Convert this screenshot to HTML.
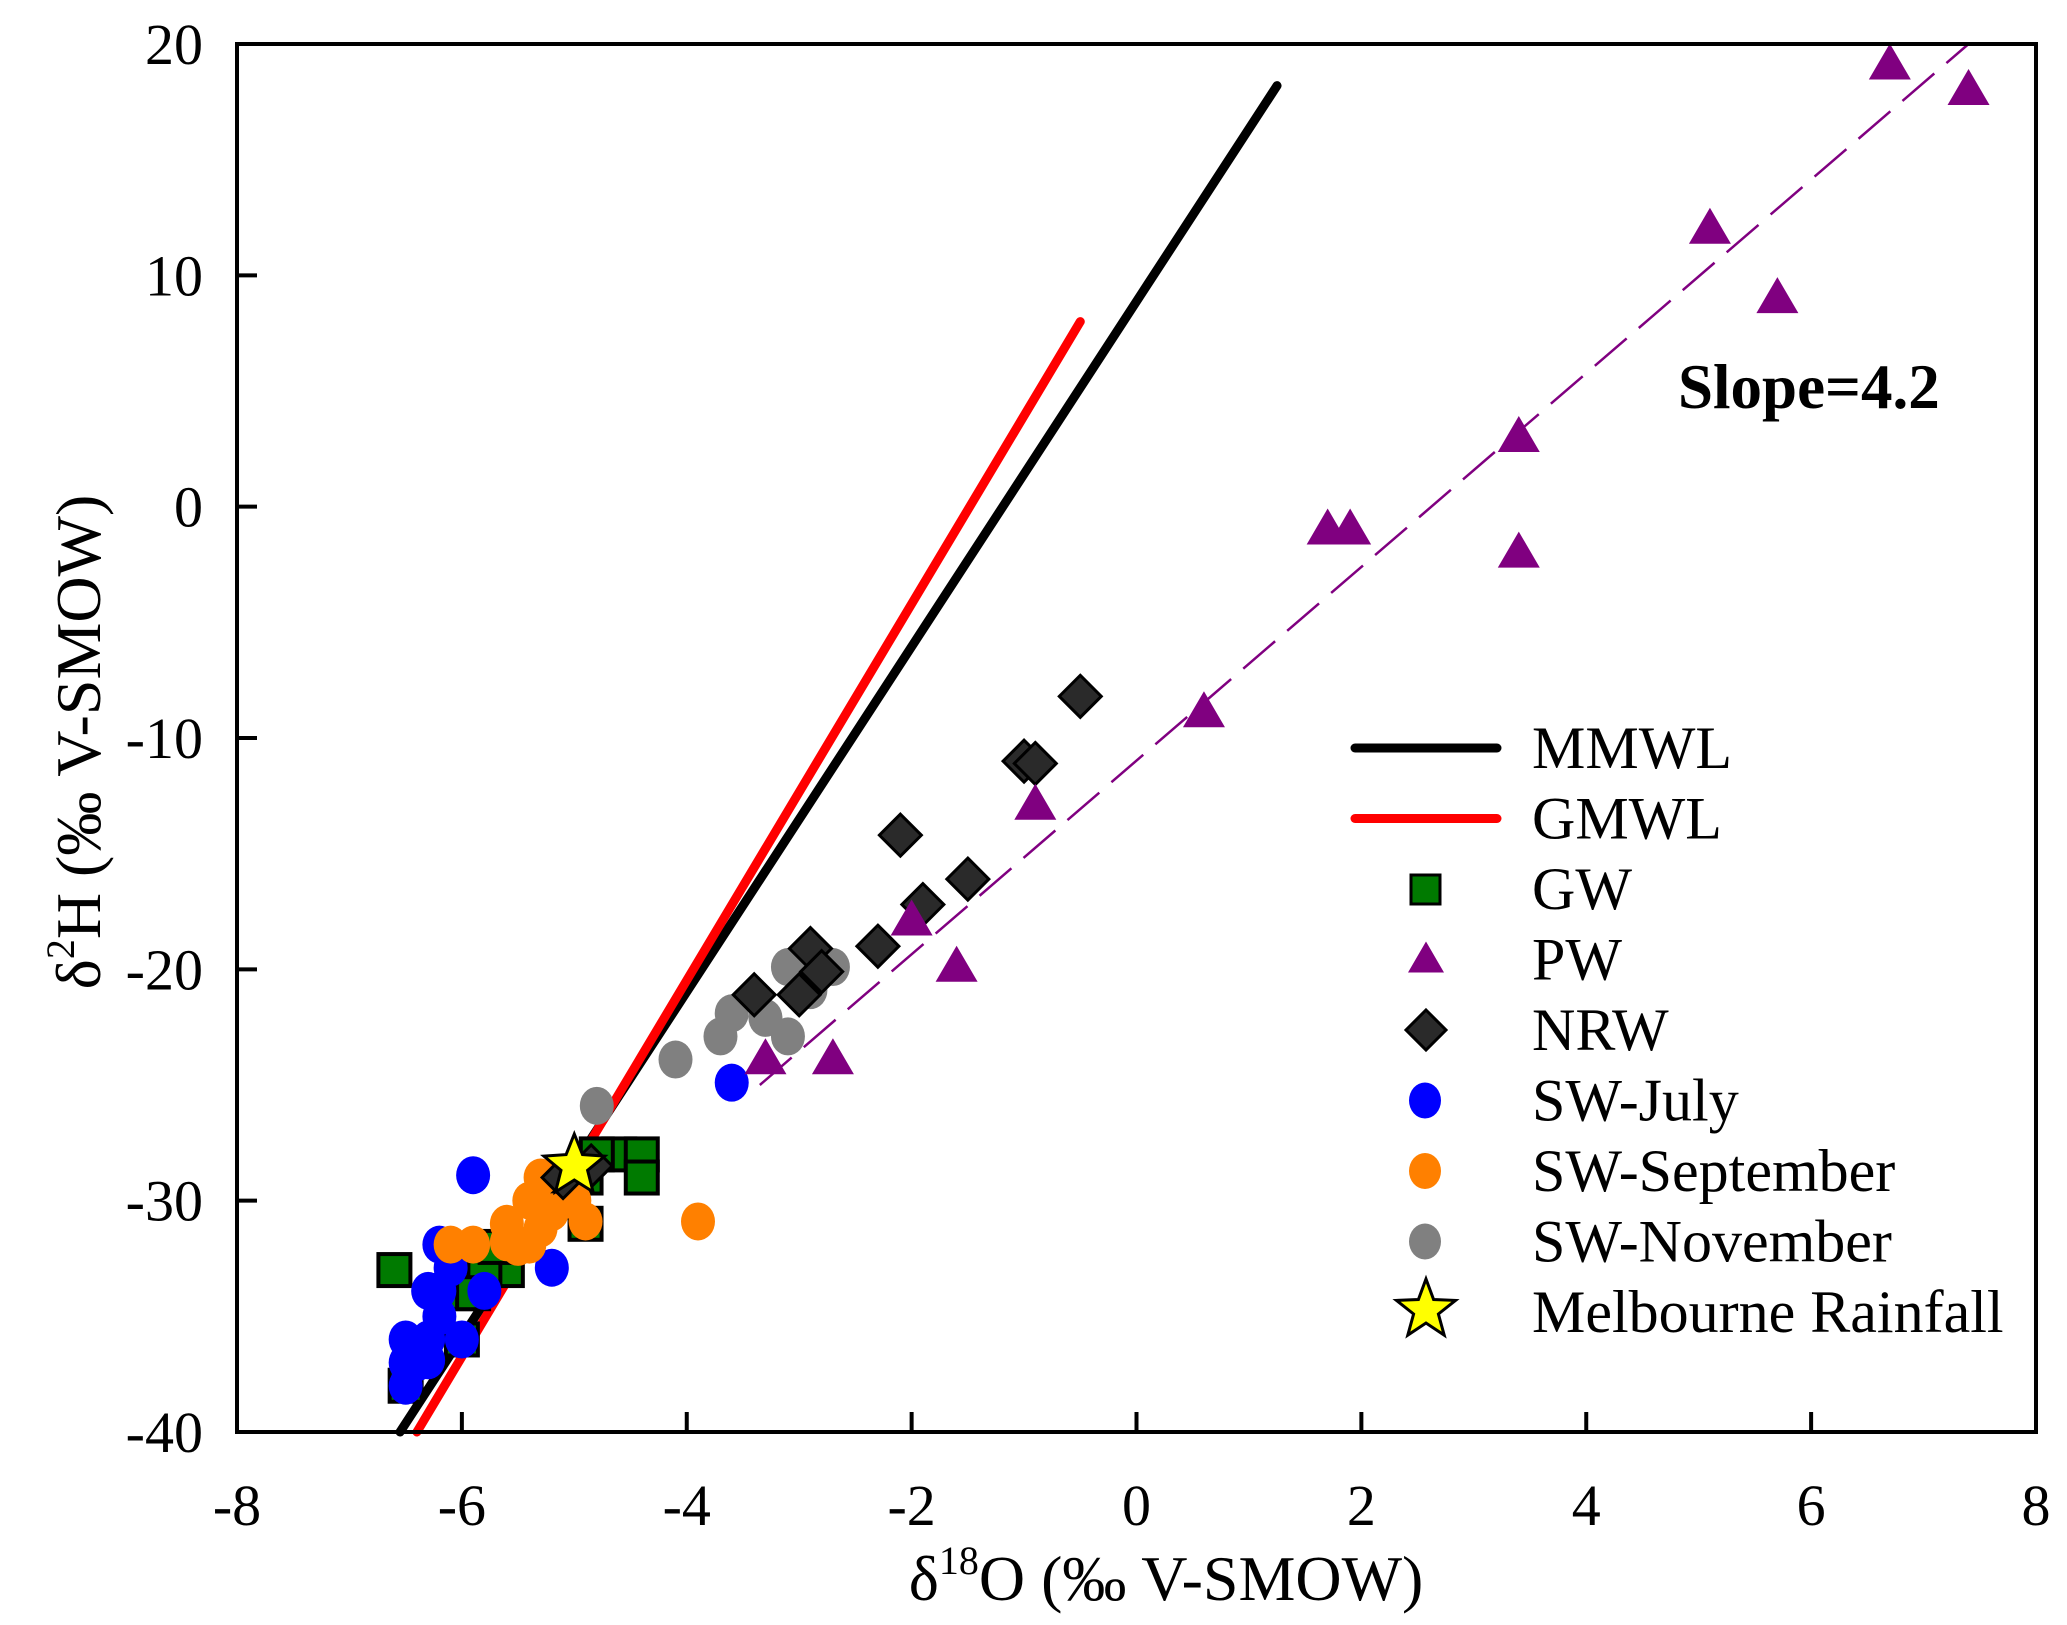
<!DOCTYPE html>
<html><head><meta charset="utf-8"><style>
html,body{margin:0;padding:0;background:#fff;}
svg{display:block;}
text{font-family:"Liberation Serif","Times New Roman",serif;}
</style></head><body>
<svg id="chart" width="2067" height="1625" viewBox="0 0 2067 1625" xmlns="http://www.w3.org/2000/svg" font-family="Liberation Serif, serif">
<g id="plot"></g>
<g id="axes"></g>
<text x="1678" y="408" font-size="63" font-weight="bold" font-family="Liberation Serif, serif">Slope=4.2</text>
<text x="1166" y="1600" font-size="64" text-anchor="middle" font-family="Liberation Serif, serif">δ<tspan font-size="40" dy="-26">18</tspan><tspan dy="26">O (‰ V-SMOW)</tspan></text>
<text transform="translate(100,742) rotate(-90)" font-size="64" text-anchor="middle" font-family="Liberation Serif, serif">δ<tspan font-size="40" dy="-26">2</tspan><tspan dy="26">H (‰ V-SMOW)</tspan></text>
<g id="legend"></g>
</svg>
<script>
const xTicks=[-8,-6,-4,-2,0,2,4,6,8];
const yTicks=[-40,-30,-20,-10,0,10,20];
const mmwlX=[-6.55,1.25]; const mmwlY=[-40,18.2];
const gmwlX=[-6.4,-0.5]; const gmwlY=[-40,8];
const pwFitX=[-3.35,7.4]; const pwFitY=[-25,20];
const gwX=[-6.6,-6.0,-5.6,-5.8,-5.9,-6.0,-6.5,-4.9,-4.9,-4.6,-4.4,-4.4,-4.8,-5.0,-5.7];
const gwY=[-33,-34,-33,-33,-34,-36,-38,-31,-29,-28,-28,-29,-28,-29,-32];
const pwX=[6.7,7.4,5.1,5.7,3.4,3.4,1.7,1.9,0.6,-0.9,-2.0,-1.6,-2.7,-3.3];
const pwY=[19.2,18.1,12.1,9.1,3.1,-1.9,-0.9,-0.9,-8.8,-12.8,-17.8,-19.8,-23.8,-23.8];
const nrwX=[-0.5,-1.0,-0.9,-2.1,-1.5,-1.9,-2.3,-2.9,-2.8,-3.0,-3.4,-5.1,-4.85];
const nrwY=[-8.2,-11,-11.1,-14.2,-16.1,-17.2,-19,-19.1,-20.1,-21.1,-21.1,-29,-28.5];
const novX=[-3.1,-2.7,-2.9,-3.6,-3.3,-3.7,-3.1,-4.1,-4.8];
const novY=[-19.9,-19.9,-20.9,-21.9,-22.1,-22.9,-22.9,-23.9,-25.9];
const julX=[-3.6,-5.9,-5.2,-6.2,-6.1,-6.2,-6.3,-5.8,-6.2,-6.5,-6.3,-6.0,-6.4,-6.5,-6.5,-6.3];
const julY=[-24.9,-28.9,-32.9,-31.9,-32.9,-33.9,-33.9,-33.9,-35,-36,-36,-36,-37,-37,-38,-36.9];
const sepX=[-3.9,-6.1,-5.9,-5.6,-5.5,-5.4,-5.4,-5.3,-5.2,-5.0,-4.9,-5.6,-5.3];
const sepY=[-30.9,-31.9,-31.9,-31,-32,-31.9,-30,-29,-30.5,-30,-30.9,-31.8,-31.2];
const starX=[-5.0]; const starY=[-28.5];

const L=237,R=2036,T=44,B=1432;
const sx=v=>L+(v+8)/16*(R-L);
const sy=v=>B-(v+40)/60*(B-T);
const NS="http://www.w3.org/2000/svg";
const FF="Liberation Serif, serif";
function mk(tag,attrs,parent){const e=document.createElementNS(NS,tag);for(const k in attrs)e.setAttribute(k,attrs[k]);parent.appendChild(e);return e;}
const plot=document.getElementById('plot'),axes=document.getElementById('axes'),leg=document.getElementById('legend');
function starPts(cx,cy,ro,ri){let p=[];for(let i=0;i<10;i++){const r=i%2?ri:ro;const a=-Math.PI/2+i*Math.PI/5;p.push((cx+r*Math.cos(a)).toFixed(1)+','+(cy+r*Math.sin(a)).toFixed(1));}return p.join(' ');}
function marker(type,cx,cy,parent){let e;
 if(type==='sq'){e=mk('rect',{x:cx-16,y:cy-16,width:32,height:32,fill:'#007a00',stroke:'#000','stroke-width':4},parent);}
 else if(type==='tri'){e=mk('polygon',{points:`${cx},${cy-19} ${cx+21},${cy+17} ${cx-21},${cy+17}`,fill:'#800080'},parent);}
 else if(type==='dia'){e=mk('polygon',{points:`${cx},${cy-21} ${cx+21},${cy} ${cx},${cy+21} ${cx-21},${cy}`,fill:'#2a2a2a',stroke:'#000','stroke-width':3},parent);}
 else if(type==='star'){e=mk('polygon',{points:starPts(cx,cy,32,14),fill:'#ffff00',stroke:'#000','stroke-width':3},parent);}
 else {e=mk('ellipse',{cx:cx,cy:cy,rx:17,ry:19,fill:type},parent);}
 return e;}
let ln=mk('line',{x1:sx(mmwlX[0]),y1:sy(mmwlY[0]),x2:sx(mmwlX[1]),y2:sy(mmwlY[1]),stroke:'#000','stroke-width':9,'stroke-linecap':'round'},plot);


ln=mk('line',{x1:sx(gmwlX[0]),y1:sy(gmwlY[0]),x2:sx(gmwlX[1]),y2:sy(gmwlY[1]),stroke:'#ff0000','stroke-width':9,'stroke-linecap':'round'},plot);


ln=mk('line',{x1:sx(pwFitX[0]),y1:sy(pwFitY[0]),x2:sx(pwFitX[1]),y2:sy(pwFitY[1]),stroke:'#800080','stroke-width':2.5,'stroke-dasharray':'42 16'},plot);


const series=[['gw','sq',gwX,gwY],['sw-july','#0000ff',julX,julY],['sw-september','#ff8000',sepX,sepY],['sw-november','#808080',novX,novY],['nrw','dia',nrwX,nrwY],['pw','tri',pwX,pwY],['melbourne-rainfall','star',starX,starY]];
series.forEach(s=>{for(let i=0;i<s[2].length;i++){const e=marker(s[1],sx(s[2][i]),sy(s[3][i]),plot);
 
 }});
const fr=mk('rect',{x:L,y:T,width:R-L,height:B-T,fill:'none',stroke:'#000','stroke-width':4},axes);


xTicks.forEach(v=>{const t=mk('line',{x1:sx(v),y1:B,x2:sx(v),y2:B-20,stroke:'#000','stroke-width':4},axes);
 
 
 const tx=mk('text',{x:sx(v),y:1525,'font-size':58,'text-anchor':'middle','font-family':FF},axes);tx.textContent=v;
 
 });
yTicks.forEach(v=>{const t=mk('line',{x1:L,y1:sy(v),x2:L+20,y2:sy(v),stroke:'#000','stroke-width':4},axes);
 
 
 const tx=mk('text',{x:203,y:sy(v)+20,'font-size':58,'text-anchor':'end','font-family':FF},axes);tx.textContent=v;
 
 });
const legItems=[['MMWL','lineblack'],['GMWL','linered'],['GW','sq'],['PW','tri'],['NRW','dia'],['SW-July','#0000ff'],['SW-September','#ff8000'],['SW-November','#808080'],['Melbourne Rainfall','star']];
legItems.forEach((it,i)=>{const y=748+i*70.5;const g=mk('g',{},leg);
 
 
 if(it[1]==='lineblack'||it[1]==='linered'){mk('line',{x1:1355,y1:y,x2:1497,y2:y,stroke:it[1]==='lineblack'?'#000':'#ff0000','stroke-width':9,'stroke-linecap':'round'},g);}
 else if(it[1]==='sq'){mk('rect',{x:1411,y:y-14,width:29,height:29,fill:'#007a00',stroke:'#000','stroke-width':3},g);}
 else if(it[1]==='tri'){mk('polygon',{points:`1426,${y-18} 1444,${y+13} 1408,${y+13}`,fill:'#800080'},g);}
 else if(it[1]==='dia'){mk('polygon',{points:`1426,${y-20} 1446,${y} 1426,${y+20} 1406,${y}`,fill:'#2a2a2a',stroke:'#000','stroke-width':3},g);}
 else if(it[1]==='star'){mk('polygon',{points:starPts(1426,y-2,31,13),fill:'#ffff00',stroke:'#000','stroke-width':3},g);}
 else {mk('ellipse',{cx:1425,cy:y,rx:16,ry:18,fill:it[1]},g);}
 const tx=mk('text',{x:1532,y:y+20,'font-size':60,'font-family':FF},g);tx.textContent=it[0];});
</script>
</body></html>
